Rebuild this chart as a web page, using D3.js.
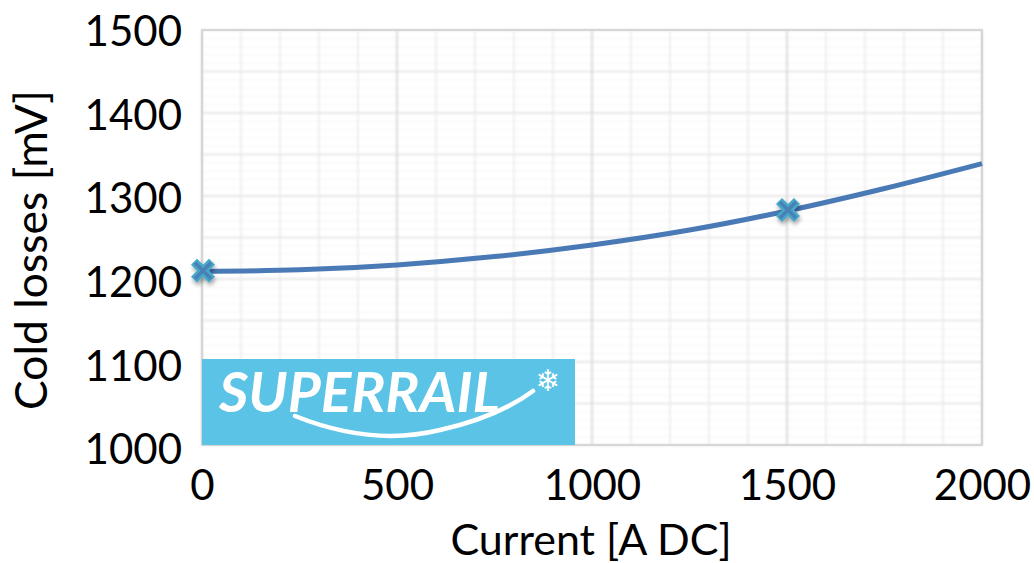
<!DOCTYPE html>
<html><head><meta charset="utf-8">
<script src="https://cdnjs.cloudflare.com/ajax/libs/d3/7.8.5/d3.min.js"></script>
<style>html,body{margin:0;padding:0;background:#fff}svg{display:block}text{font-family:Lato,"Open Sans",sans-serif;fill:#000}</style>
</head><body><svg id="c" width="1034" height="563"></svg>
<script>
const currents=[0,250,500,750,1000,1250,1500,1750,2000];
const losses=[1209,1211,1217,1227,1241,1259,1282,1309,1339];
const markerCurrents=[0,1500];
const markerLosses=[1210,1283];
const xTicks=[0,500,1000,1500,2000];
const yTicks=[1000,1100,1200,1300,1400,1500];
const xLabel="Current [A DC]";
const yLabel="Cold losses [mV]";
const logoText="SUPERRAIL";

const svg=d3.select("#c");
const x=d3.scaleLinear().domain([0,2000]).range([202,982]);
const y=d3.scaleLinear().domain([1000,1500]).range([445,30]);
const yLab=d3.scaleLinear().domain([1000,1500]).range([449,31]);
const defs=svg.append("defs");
const mkBlur=(id,s)=>defs.append("filter").attr("id",id).attr("filterUnits","userSpaceOnUse")
  .attr("x",0).attr("y",0).attr("width",1034).attr("height",563)
  .append("feGaussianBlur").attr("stdDeviation",s);
mkBlur("soft",0.9);
mkBlur("soft2",0.6);
const sh=defs.append("filter").attr("id","shadow").attr("filterUnits","userSpaceOnUse")
  .attr("x",0).attr("y",0).attr("width",1034).attr("height",563);
sh.append("feDropShadow").attr("dx",1).attr("dy",3).attr("stdDeviation",2.2).attr("flood-color","#000").attr("flood-opacity",0.35);

const grid=svg.append("g").attr("filter","url(#soft)");
grid.selectAll(".h10").data(d3.range(1000,1501,10)).join("line")
  .attr("x1",x.range()[0]).attr("x2",x.range()[1]).attr("y1",y).attr("y2",y)
  .attr("stroke","#f5f5f5").attr("stroke-width",1);
grid.selectAll(".h50").data(d3.range(1000,1501,50)).join("line")
  .attr("x1",x.range()[0]).attr("x2",x.range()[1]).attr("y1",y).attr("y2",y)
  .attr("stroke","#e2e2e2").attr("stroke-width",1.5);
grid.selectAll(".v100").data(d3.range(0,2001,100)).join("line")
  .attr("y1",y.range()[0]).attr("y2",y.range()[1]).attr("x1",x).attr("x2",x)
  .attr("stroke","#e8e8e8").attr("stroke-width",1.4);
grid.selectAll(".v500").data(xTicks).join("line")
  .attr("y1",y.range()[0]).attr("y2",y.range()[1]).attr("x1",x).attr("x2",x)
  .attr("stroke","#d8d8d8").attr("stroke-width",1.6);
svg.append("rect").attr("x",x.range()[0]).attr("y",y.range()[1])
  .attr("width",x.range()[1]-x.range()[0]).attr("height",y.range()[0]-y.range()[1])
  .attr("fill","none").attr("stroke","#d6d6d6").attr("stroke-width",2);

const xAxis=svg.append("g").attr("transform",`translate(0,${y.range()[0]})`)
  .call(d3.axisBottom(x).tickValues(xTicks).tickFormat(d3.format("d")).tickSize(0).tickPadding(25));
const yAxis=svg.append("g").attr("transform",`translate(${x.range()[0]},0)`)
  .call(d3.axisLeft(yLab).tickValues(yTicks).tickFormat(d3.format("d")).tickSize(0).tickPadding(20));
[xAxis,yAxis].forEach(a=>{a.select(".domain").remove();
  a.selectAll("text").attr("font-size",42).attr("font-family","Lato");});
yAxis.selectAll("text").attr("dy","0.35em");
xAxis.selectAll("text").attr("dy","0.71em");

svg.append("text").attr("x",591).attr("y",555).attr("text-anchor","middle")
  .attr("font-size",43).text(xLabel);
svg.append("text").attr("transform","translate(47,250) rotate(-90)").attr("text-anchor","middle")
  .attr("font-size",44.5).text(yLabel);

const line=d3.line().x((d,i)=>x(currents[i])).y(d=>y(d)).curve(d3.curveCatmullRom.alpha(0.5));
svg.append("path").datum(losses).attr("d",line).attr("fill","none")
  .attr("stroke","#4a7ab5").attr("stroke-width",5).attr("filter","url(#soft2)");

const crossType={draw(ctx,size){const r=Math.sqrt(size)/2;ctx.moveTo(-r,-r);ctx.lineTo(r,r);ctx.moveTo(-r,r);ctx.lineTo(r,-r);}};
const pts=markerCurrents.map((c,i)=>[c,markerLosses[i]]);
const mk=svg.append("g").attr("filter","url(#shadow)");
mk.selectAll(".o").data(pts).join("path")
  .attr("transform",d=>`translate(${x(d[0])+1},${y(d[1])})`)
  .attr("d",d3.symbol().type(crossType).size(324))
  .attr("fill","none").attr("stroke","#45a8c9").attr("stroke-width",8.5);
mk.selectAll(".i").data(pts).join("path")
  .attr("transform",d=>`translate(${x(d[0])+1},${y(d[1])})`)
  .attr("d",d3.symbol().type(crossType).size(256))
  .attr("fill","none").attr("stroke","#4a80b5").attr("stroke-width",3.5);

const lg=svg.append("g");
lg.append("rect").attr("x",202).attr("y",359).attr("width",373).attr("height",86).attr("fill","#5ac3e6");
lg.append("text").attr("x",219).attr("y",412).attr("font-size",55).attr("font-style","italic")
  .attr("font-weight",700).attr("textLength",281).attr("lengthAdjust","spacingAndGlyphs")
  .style("fill","#fff").text(logoText);
lg.append("path").attr("d","M295,416 C345,436 395,441 440,430 C480,421 510,408 533,391")
  .attr("fill","none").attr("stroke","#fff").attr("stroke-width",4.5).attr("stroke-linecap","round");
lg.append("text").attr("x",548).attr("y",391).attr("text-anchor","middle").attr("font-size",30)
  .style("font-family","'DejaVu Sans'").style("fill","#fff").text("\u2744");
</script></body></html>
